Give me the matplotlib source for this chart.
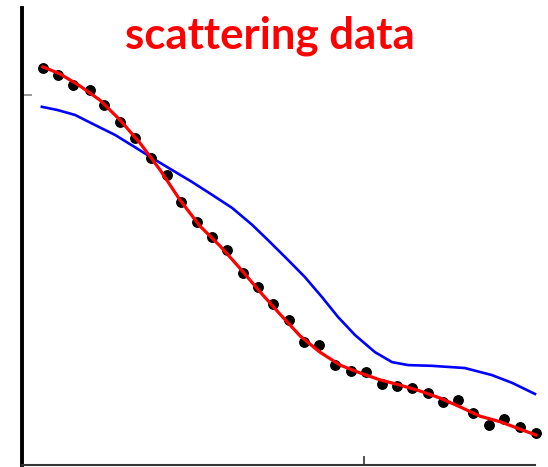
import matplotlib
matplotlib.use("Agg")
import matplotlib.pyplot as plt

# Measured scattering intensity (black dots)
q_data = [0.061, 0.105, 0.149, 0.199, 0.240, 0.287, 0.330, 0.377, 0.424, 0.465,
          0.512, 0.556, 0.599, 0.646, 0.690, 0.734, 0.781, 0.825, 0.868, 0.915,
          0.962, 1.006, 1.053, 1.096, 1.140, 1.187, 1.231, 1.275, 1.319, 1.365,
          1.409, 1.456, 1.503]
i_data = [1.073, 1.054, 1.027, 1.014, 0.973, 0.927, 0.884, 0.830, 0.784, 0.711,
          0.657, 0.616, 0.581, 0.519, 0.481, 0.435, 0.392, 0.332, 0.324, 0.270,
          0.254, 0.251, 0.219, 0.214, 0.208, 0.195, 0.170, 0.176, 0.141, 0.108,
          0.124, 0.103, 0.086]

# Fitted model (red)
q_fit = [0.061, 0.111, 0.170, 0.228, 0.287, 0.345, 0.404, 0.462, 0.520, 0.579,
         0.637, 0.696, 0.754, 0.813, 0.871, 0.930, 0.988, 1.047, 1.105, 1.164,
         1.222, 1.281, 1.339, 1.398, 1.456, 1.503]
i_fit = [1.076, 1.057, 1.024, 0.986, 0.932, 0.870, 0.797, 0.716, 0.646, 0.592,
         0.532, 0.468, 0.408, 0.349, 0.305, 0.270, 0.249, 0.230, 0.216, 0.200,
         0.181, 0.157, 0.132, 0.117, 0.097, 0.081]

# Initial model (blue)
q_init = [0.058, 0.105, 0.155, 0.213, 0.272, 0.330, 0.380, 0.439, 0.497, 0.556,
          0.614, 0.673, 0.719, 0.778, 0.827, 0.877, 0.924, 0.974, 1.032, 1.082,
          1.129, 1.199, 1.295, 1.374, 1.433, 1.500]
i_init = [0.968, 0.959, 0.946, 0.919, 0.892, 0.859, 0.830, 0.797, 0.765, 0.730,
          0.695, 0.649, 0.608, 0.554, 0.508, 0.454, 0.400, 0.351, 0.305, 0.278,
          0.270, 0.268, 0.262, 0.243, 0.222, 0.192]

W, H = 548, 467
fig = plt.figure(figsize=(W / 100, H / 100), dpi=100)
ax = fig.add_axes([22 / W, 2 / H, 513 / W, 457 / H])

ax.plot(q_init, i_init, color="#0000ff", lw=1.9, zorder=2, clip_on=False,
        solid_joinstyle="round")
ax.plot(q_data, i_data, "o", color="black", ms=6.8, zorder=3, clip_on=False)
ax.plot(q_fit, i_fit, color="#ff0000", lw=2.3, zorder=4, clip_on=False,
        solid_joinstyle="round")

ax.set_xlim(0, 1.5)
ax.set_ylim(0, 1.235)
ax.set_xticks([1.0])
ax.set_yticks([1.0])
ax.set_xticklabels([])
ax.set_yticklabels([])
ax.tick_params(axis="y", direction="in", length=7, width=1.2, color="#888888")
ax.tick_params(axis="x", direction="in", length=6.5, width=1.2, color="#333333")

for s in ("top", "right"):
    ax.spines[s].set_visible(False)
ax.spines["left"].set_linewidth(2.8)
ax.spines["left"].set_color("black")
ax.spines["bottom"].set_linewidth(1.5)
ax.spines["bottom"].set_color("#333333")

fig.text(270 / W, 1 - 48 / H, "scattering data", color="#ff0000",
         fontsize=31.5, fontweight="bold", family=["Lato", "DejaVu Sans"],
         ha="center", va="baseline")

fig.savefig("out.png", dpi=100)
